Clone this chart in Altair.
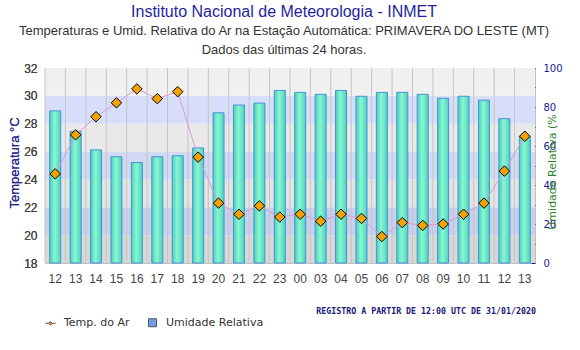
import altair as alt
import pandas as pd

hours = ["12", "13", "14", "15", "16", "17", "18", "19", "20", "21", "22", "23",
         "00", "03", "04", "05", "06", "07", "08", "09", "10", "11", "12", "13"]
temp = [24.4, 27.2, 28.5, 29.5, 30.5, 29.8, 30.3, 25.6, 22.3, 21.5, 22.1, 21.3,
        21.5, 21.0, 21.5, 21.2, 19.9, 20.9, 20.7, 20.8, 21.5, 22.3, 24.6, 27.1]
hum = [78, 67.5, 58, 54.5, 51.5, 54.5, 55, 59, 77, 81, 82, 88.5,
       87.5, 86.5, 88.5, 85.5, 87.5, 87.5, 86.5, 84.5, 85.5, 83.5, 74, 65]

band_lo = [18, 20, 22, 24, 26, 28, 30]
band_hi = [20, 22, 24, 26, 28, 30, 32]
band_col = ["#d8d8d8", "#c9d0ec", "#e4e4e4", "#d2d9f3", "#e9e9e9", "#d7defa", "#f0f0f0"]

legend_labels = ["Temp. do Ar", "Umidade Relativa"]
legend_colors = ["#f5a300", "#6f9fe0"]
note = ["REGISTRO A PARTIR DE 12:00 UTC DE 31/01/2020"]

df = pd.DataFrame({"idx": list(range(len(hours))), "hour": hours, "temp": temp, "hum": hum})
bands = pd.DataFrame({"lo": band_lo, "hi": band_hi, "col": band_col})
leg = pd.DataFrame({"s": legend_labels})
note_df = pd.DataFrame({"t": note})

W, H = 490, 195

label_expr = "[" + ",".join(f"'{h}'" for h in hours) + "][datum.value]"
xscale = alt.Scale(paddingInner=0, paddingOuter=0)
xaxis = alt.Axis(labelExpr=label_expr, labelAngle=0, title=None, tickSize=0, domain=False,
                 grid=False, labelPadding=10, labelFontSize=12, labelColor="#444444",
                 labelFont="Liberation Sans")
X = alt.X("idx:O", scale=xscale, axis=xaxis)

tscale = alt.Scale(domain=[18, 32], nice=False, zero=False)
hscale = alt.Scale(domain=[0, 100], nice=False)

taxis = alt.Axis(
    orient="left", values=list(range(18, 33, 2)), tickSize=0, domain=False, grid=False,
    labelPadding=8, labelFont="Liberation Sans", labelFontSize=12, labelColor="#444444",
    title="Temperatura °C", titleFont="Liberation Sans", titleFontSize=13,
    titleFontWeight="normal", titleColor="#2b2b8f", titleAngle=270,
    titleX=-31, titleY=H / 2 - 3, titleAlign="center", titleBaseline="middle")
TY = alt.Y("temp:Q", scale=tscale, axis=taxis)

bg = alt.Chart(bands).mark_rect().encode(
    x=alt.value(0), x2=alt.value(W),
    y=alt.Y("lo:Q", scale=tscale, axis=None), y2="hi:Q",
    fill=alt.Fill("col:N", scale=None),
)

grid = alt.Chart(df).mark_rule(color="#c4c4c4", strokeWidth=1).encode(
    x=alt.X("idx:O", scale=xscale, axis=xaxis, bandPosition=0),
    y=alt.value(0), y2=alt.value(H),
)

grad = alt.Gradient(
    gradient="linear", x1=0, x2=1, y1=0, y2=0,
    stops=[alt.GradientStop(color="#3fd6b4", offset=0),
           alt.GradientStop(color="#8ff3d6", offset=0.45),
           alt.GradientStop(color="#44d8b6", offset=1)],
)

bars = alt.Chart(df).mark_bar(size=11, fill=grad, stroke="#4b8fd6", strokeWidth=1).encode(
    x=X,
    y=alt.Y("hum:Q", scale=hscale, axis=alt.Axis(
        orient="right", values=list(range(0, 101, 10)),
        labelExpr="datum.value % 20 == 0 ? datum.label : ''",
        tickSize=4, tickColor="#1a1a8c", offset=-4, domain=False, grid=False,
        labelPadding=8, labelFont="DejaVu Sans", labelFontSize=10, labelColor="#1a1a8c",
        title="Umidade Relativa (%", titleFont="DejaVu Sans", titleFontSize=11,
        titleFontWeight="normal", titleColor="#2f7f2f", titleAngle=270,
        titleX=21, titleY=H / 2 + 6, titleAlign="center", titleBaseline="middle")),
)

line = alt.Chart(df).mark_line(color="#d89ad8", strokeWidth=1).encode(x=X, y=TY)

pts = alt.Chart(df).mark_point(shape="diamond", filled=True, fill="#f5a300", stroke="black",
                               strokeWidth=1, size=110, opacity=1).encode(x=X, y=TY)

legend_layer = alt.Chart(leg).mark_point(filled=True, opacity=0).encode(
    color=alt.Color("s:N", scale=alt.Scale(domain=legend_labels, range=legend_colors),
                    legend=alt.Legend(
                        title=None, orient="none", legendX=0, legendY=249, direction="horizontal",
                        symbolOpacity=1, symbolSize=64, symbolStrokeColor="#555555",
                        symbolStrokeWidth=1, labelFont="DejaVu Sans", labelFontSize=11,
                        labelColor="#333333", labelOffset=8, columnPadding=16)),
    shape=alt.Shape("s:N", scale=alt.Scale(
        domain=legend_labels,
        range=["M-1.3,0L-0.45,0M0.45,0L1.3,0M-0.45,0L0,-0.45L0.45,0L0,0.45Z", "square"]),
        legend=None),
)

note_layer = alt.Chart(note_df).mark_text(
    align="right", baseline="middle", font="DejaVu Sans Mono", fontSize=8.3,
    fontWeight="bold", color="#1a1a7a").encode(
    text="t:N", x=alt.value(491), y=alt.value(244),
)

chart = alt.layer(bg, grid, bars, line, pts, legend_layer, note_layer).resolve_scale(
    y="independent"
).properties(
    width=W, height=H,
    autosize=alt.AutoSizeParams(type="none"),
    padding={"left": 45, "top": 68, "right": 45, "bottom": 87},
    title=alt.TitleParams(
        text="Instituto Nacional de Meteorologia - INMET",
        subtitle=["Temperaturas e Umid. Relativa do Ar na Estação Automática: PRIMAVERA DO LESTE (MT)",
                  "Dados das últimas 24 horas."],
        font="Liberation Sans", fontSize=16, fontWeight="normal", color="#1f1fa0",
        subtitleFont="Liberation Sans", subtitleFontSize=13, subtitleColor="#333333",
        subtitlePadding=5, subtitleLineHeight=19, anchor="middle", offset=5, dx=-6,
    ),
).configure_view(stroke="#c0c0c0")

chart.save("out.html", embed_options={"renderer": "svg", "actions": False})
